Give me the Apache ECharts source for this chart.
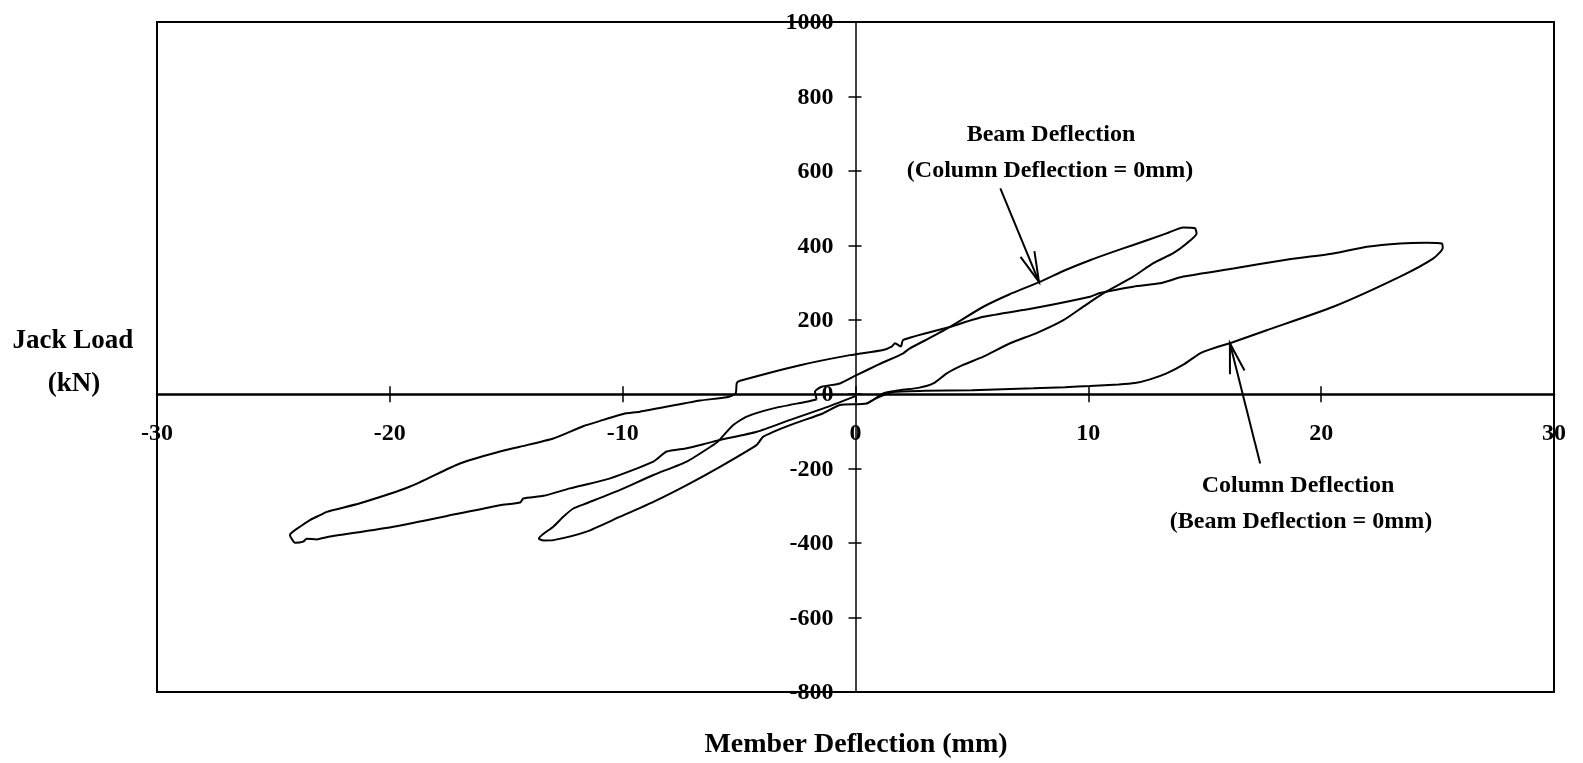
<!DOCTYPE html>
<html>
<head>
<meta charset="utf-8">
<script src="https://cdn.jsdelivr.net/npm/echarts@6/dist/echarts.min.js"></script>
<style>
html,body{margin:0;padding:0;background:#fff;}
#chart{width:1583px;height:763px;}
</style>
</head>
<body>
<div id="chart"></div>
<script>
// ---- data (mm, kN) ----
const xMin = -30, xMax = 30, xStep = 10;
const yMin = -800, yMax = 1000, yStep = 200;
const xTickLabels = [-30, -20, -10, 0, 10, 20, 30];
const yTickLabels = [-800, -600, -400, -200, 0, 200, 400, 600, 800, 1000];

// Beam deflection loop (column deflection = 0mm)
const beamX = [
  -1.67, -1.74, -1.45, -0.67, 0.0, 1.0, 2.05, 2.3, 3.0, 4.06, 5.49, 6.6, 7.92, 9.0, 10.07, 11.0, 11.93, 13.36, 14.08, 14.58,
  14.65, 14.22, 13.65, 12.79, 11.93, 10.64, 9.8, 8.93, 7.8, 6.64, 5.49, 4.6, 3.92, 3.34, 2.7, 1.91, 1.19, 0.48, -0.67,
  -1.38, -2.81, -3.96, -4.24, -5.82, -7.25, -8.68, -10.11, -11.55, -12.98, -13.4, -13.6, -13.4, -12.98, -12.55, -12.12, -11.55, -10.11, -8.68, -7.25,
  -6.1, -5.89, -5.25, -4.67, -3.53, -2.1, -1.67
];
const beamY = [
  -14, 7, 20, 29, 50, 80, 110, 122, 145, 181, 235, 268, 302, 333, 360, 381, 401, 432, 448, 446,
  432, 405, 379, 352, 316, 271, 236, 199, 165, 137, 101, 78, 56, 29, 17, 11, 2, -25, -29,
  -51, -83, -114, -136, -195, -244, -289, -329, -369, -392, -393, -388, -375, -356, -329, -307, -293, -257, -217, -181,
  -136, -126, -83, -60, -38, -20, -14
];

// Column deflection loop (beam deflection = 0mm)
const columnX = [
  0.48, 1.0, 1.6, 3.0, 5.0, 7.64, 9.0, 10.07, 11.3, 12.0, 12.65, 13.36, 14.1, 14.8, 15.5, 16.08, 17.66, 20.52, 23.39, 24.82,
  25.22, 25.18, 24.53, 23.39, 21.96, 20.52, 18.37, 16.23, 14.08, 13.08, 11.93, 10.5, 10.07, 7.64, 5.49, 4.06, 2.05, 1.95, 1.7, 1.55,
  1.19, -0.24, -2.38, -4.96, -5.1, -5.15, -5.53, -6.68, -9.26, -9.97, -10.83, -11.7, -12.98, -14.41, -15.27, -16.99, -19.13, -21.28, -22.71, -23.0,
  -23.43, -23.86, -24.29, -24.07, -23.72, -23.57, -23.14, -22.71, -19.85, -16.99, -15.27, -14.4, -14.27, -13.4, -12.26, -10.54, -8.68, -8.11, -7.25, -6.39,
  -5.82, -4.24, -2.81, -1.38, 0.0
];
const columnY = [
  -25, -8, 6, 9, 11, 16, 19, 22, 26, 30, 40, 56, 80, 110, 126, 137, 172, 235, 316, 365,
  393, 405, 407, 405, 396, 378, 360, 338, 316, 298, 289, 272, 262, 231, 208, 181, 146, 128, 137, 128,
  119, 105, 78, 36, 30, 2, -8, -17, -47, -53, -69, -86, -119, -141, -154, -186, -248, -293, -316, -325,
  -338, -356, -378, -399, -396, -388, -390, -384, -356, -320, -298, -291, -280, -273, -253, -226, -181, -154, -145, -132,
  -123, -101, -69, -38, -5
];

// Annotation arrows: [tail, tip] in data units
const beamArrowX = [6.22, 7.88];
const beamArrowY = [553, 302];
const columnArrowX = [17.38, 16.08];
const columnArrowY = [-186, 137];

const FONT = "'Liberation Serif', 'Times New Roman', serif";

function zip(xs, ys) { return xs.map((x, i) => [x, ys[i]]); }

const chart = echarts.init(document.getElementById('chart'), null, {renderer: 'canvas'});

const option = {
  backgroundColor: '#fff',
  animation: false,
  grid: {left: 157, top: 22, width: 1397, height: 670, show: true, borderColor: '#000', borderWidth: 2, backgroundColor: 'transparent'},
  xAxis: [
    {type: 'value', min: xMin, max: xMax, interval: xStep, position: 'bottom',
     axisLine: {onZero: true, lineStyle: {color: '#000', width: 2.5}},
     axisTick: {show: true, inside: false, length: 8, lineStyle: {color: '#000', width: 1.5}},
     axisLabel: {show: false},
     splitLine: {show: false}},
    {type: 'value', min: xMin, max: xMax, interval: xStep, position: 'top',
     axisLine: {show: false, onZero: true},
     axisTick: {show: true, inside: false, length: 8, lineStyle: {color: '#000', width: 1.5}},
     axisLabel: {show: false}, splitLine: {show: false}}
  ],
  yAxis: [
    {type: 'value', min: yMin, max: yMax, interval: yStep, position: 'left',
     axisLine: {onZero: true, lineStyle: {color: '#000', width: 1.5}},
     axisTick: {show: true, inside: false, length: 7, lineStyle: {color: '#000', width: 1.5}},
     axisLabel: {show: false},
     splitLine: {show: false}},
    {type: 'value', min: yMin, max: yMax, interval: yStep, position: 'right',
     axisLine: {show: false, onZero: true},
     axisTick: {show: true, inside: false, length: 6, lineStyle: {color: '#000', width: 1.5}},
     axisLabel: {show: false}, splitLine: {show: false}}
  ],
  series: [
    {name: 'Beam Deflection', type: 'line', xAxisIndex: 0, yAxisIndex: 0, data: zip(beamX, beamY),
     showSymbol: false, symbol: 'none', smooth: 0.2, lineStyle: {color: '#000', width: 2}, z: 5},
    {name: 'Column Deflection', type: 'line', xAxisIndex: 0, yAxisIndex: 0, data: zip(columnX, columnY),
     showSymbol: false, symbol: 'none', smooth: 0.2, lineStyle: {color: '#000', width: 2}, z: 5},
    {name: 'beamArrow', type: 'line', data: zip(beamArrowX, beamArrowY), showSymbol: false, symbol: 'none',
     lineStyle: {color: '#000', width: 2}, silent: true},
    {name: 'columnArrow', type: 'line', data: zip(columnArrowX, columnArrowY), showSymbol: false, symbol: 'none',
     lineStyle: {color: '#000', width: 2}, silent: true}
  ]
};
chart.setOption(option);

const graphics = [
  {type: 'text', x: 856, y: 745, style: {text: 'Member Deflection (mm)', font: "bold 28px " + FONT, fill: '#000', align: 'center', verticalAlign: 'middle'}},
  {type: 'text', x: 73, y: 341, style: {text: 'Jack Load', font: "bold 27px " + FONT, fill: '#000', align: 'center', verticalAlign: 'middle'}},
  {type: 'text', x: 74, y: 384, style: {text: '(kN)', font: "bold 27px " + FONT, fill: '#000', align: 'center', verticalAlign: 'middle'}},
  {type: 'text', x: 1051, y: 135, style: {text: 'Beam Deflection', font: "bold 24px " + FONT, fill: '#000', align: 'center', verticalAlign: 'middle'}},
  {type: 'text', x: 1050, y: 171, style: {text: '(Column Deflection = 0mm)', font: "bold 24px " + FONT, fill: '#000', align: 'center', verticalAlign: 'middle'}},
  {type: 'text', x: 1298, y: 486, style: {text: 'Column Deflection', font: "bold 24px " + FONT, fill: '#000', align: 'center', verticalAlign: 'middle'}},
  {type: 'text', x: 1301, y: 522, style: {text: '(Beam Deflection = 0mm)', font: "bold 24px " + FONT, fill: '#000', align: 'center', verticalAlign: 'middle'}}
];

// tick labels placed through the chart's own scales (axes cross at zero)
const origin = chart.convertToPixel({gridIndex: 0}, [0, 0]);
xTickLabels.forEach(v => {
  const p = chart.convertToPixel({gridIndex: 0}, [v, 0]);
  graphics.push({type: 'text', x: p[0], y: origin[1] + 40, z: 20,
    style: {text: String(v), font: "bold 24px " + FONT, fill: '#000', align: 'center', verticalAlign: 'middle'}});
});
yTickLabels.forEach(v => {
  const p = chart.convertToPixel({gridIndex: 0}, [0, v]);
  graphics.push({type: 'text', x: origin[0] - 22, y: p[1] + 1, z: 20,
    style: {text: String(v), font: "bold 24px " + FONT, fill: '#000', align: 'right', verticalAlign: 'middle'}});
});

// open V arrowheads computed from the arrow data via the chart's own scales
function head(xs, ys) {
  const p0 = chart.convertToPixel({gridIndex: 0}, [xs[0], ys[0]]);
  const p1 = chart.convertToPixel({gridIndex: 0}, [xs[1], ys[1]]);
  const dx = p1[0] - p0[0], dy = p1[1] - p0[1];
  const len = Math.hypot(dx, dy);
  const ux = dx / len, uy = dy / len;
  const L = 31, a = 14 * Math.PI / 180;
  const pts = [];
  [a, -a].forEach(t => {
    const bx = -ux, by = -uy;
    const rx = bx * Math.cos(t) - by * Math.sin(t);
    const ry = bx * Math.sin(t) + by * Math.cos(t);
    pts.push([p1[0] + rx * L, p1[1] + ry * L]);
  });
  return {type: 'polyline', shape: {points: [pts[0], p1, pts[1]]}, style: {stroke: '#000', lineWidth: 2, fill: null}, z: 10};
}
graphics.push(head(beamArrowX, beamArrowY), head(columnArrowX, columnArrowY));
chart.setOption({graphic: graphics});
</script>
</body>
</html>
